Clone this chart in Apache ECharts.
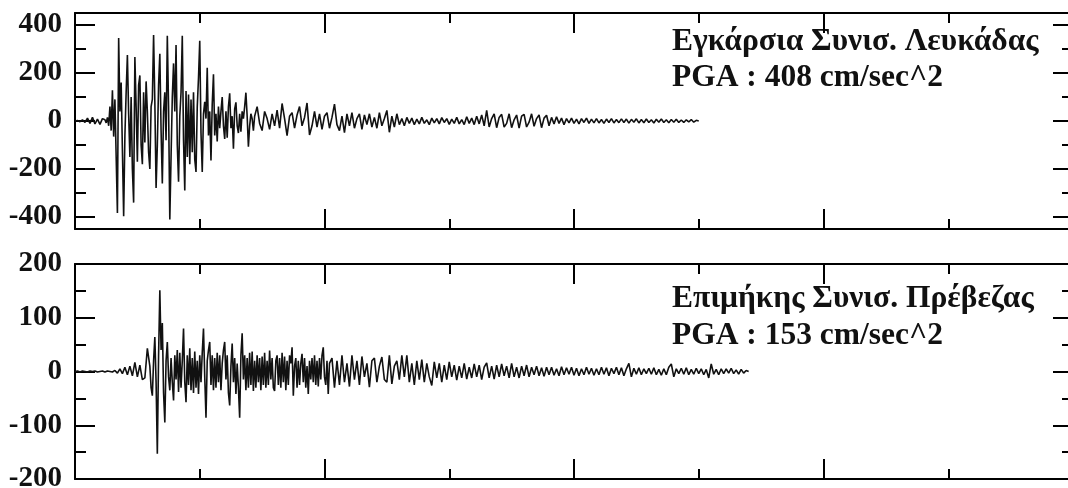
<!DOCTYPE html>
<html>
<head>
<meta charset="utf-8">
<script src="https://cdn.jsdelivr.net/npm/echarts@6/dist/echarts.min.js"></script>
<style>html,body{margin:0;padding:0;background:#fff}#c{width:1068px;height:488px}</style>
</head>
<body>
<div id="c"></div>
<script>
// ---- Data (acceleration, cm/sec^2) ----
// Top trace: Εγκάρσια Συνισ. Λευκάδας
const topPreT0 = 0, topPreDt = 0.1;
const topPre = [0, 2, -3, 5, -6, 12, -10, 15, -12, 8, -14, 10];
const topStrongT0 = 1.2, topStrongDt = 0.05;
const topStrong = [
  5, -8, 15, -20, 60, -40, 128, -65, 90, -150,
  -383, 346, 40, 160, -120, -397, -60, 120, 275, 30,
  -150, 100, -200, -340, 267, 60, -170, 150, 190, -100,
  -180, 120, -90, 165, 40, -130, -200, 60, 90, 358,
  80, -279, -100, 150, 280, -40, -260, 40, 120, -80,
  355, 60, -410, -150, 100, 240, 40, 317, -100, -253,
  20, 120, 355, -80, -290, 125, -150, 110, -180, 90,
  -130, 120, -160, -212, 60, 180, 334, -50, -212, 30,
  80, 10, 222, -60, 40, -165, 70, 195, -60, 30,
  -85, 60, -30, 40, 100, -20, -75, 40, -70, 60,
  115, -30, 20, -115, 50, 78, -20, -50, 30, -45,
  40, 10, 60, 118, 20, -107, -20, 30, 10, -40,
  20
];
const topCodaT0 = 7.3, topCodaDt = 0.1;
const topCoda = [
  60, -10, -40, 40, 10, -35, 30,
  -20, 45, -30, 73, 10, -61, 20, 35, -30, 25,
  60, -20, 15, 75, -58, -20, 40, -25, 30, -35,
  20, 35, -30, 15, 70, -15, -40, 20, -48, 30,
  -20, 35, -30, 10, 30, -35, 25, -15, 30, -25,
  15, -30, 35, -20, 10, 44, -47, 20, -25, 30,
  -15, 10, -20, 15, -10, 12, -15, 8, -12, 15,
  -10, 5, -15, 12, -8, 10, -12, 14, -6, 10,
  -14, 8, -10, 15, -12, 6, -15, 18, -10, 12,
  -15, 20, -12, 25, -20, 44, -25, 10, 30, -28,
  15, 28, -25, -10, 30, -28, 5, 25, -30, 20,
  28, -25, -5, 30, -22, 10, 25, -28, 12, 24,
  -20, 15, -12, 18, -10, 12, -15, 10, -8, 12,
  -10, 8, -12, 10, -6, 12, -10, 8, -8, 10,
  -8, 6, -10, 8, -6, 10, -8, 6, -7, 9,
  -6, 8, -9, 7, -5, 9, -8, 6, -7, 8,
  -6, 5, -8, 7, -5, 8, -6, 5, -7, 6,
  -5, 7, -6, 4, -6, 5, -4, 6, -5, 3, 0
];

// Bottom trace: Επιμήκης Συνισ. Πρέβεζας
const botPreT0 = 0, botPreDt = 0.1;
const botPre = [
  0, 1, -1, 1, 0, -1, 1, 0, 1, -1,
  0, 1, -1, 1, 0, -1, 2, -3, 5, -4,
  8, -6, 10, -8, 17, -10, 12, -15, -12, 43
];
const botStrongT0 = 3.0, botStrongDt = 0.05;
const botStrong = [
  10, -30, -45, 20, 64, -20, -153, 30, 151, 40,
  90, -40, -95, 20, 55, -10, -35, 25, -20, -54,
  30, -15, 40, -38, 35, -30, 20, 80, -20, -57,
  30, -25, 43, -35, 25, -40, 37, -30, 20, -42,
  30, -20, 35, 80, -10, -86, 20, 40, 55, -25,
  30, -35, 25, -30, 35, -20, 30, -35, 15, 40,
  55, -15, 30, -40, -63, 10, 52, -20, 25, -42,
  15, -30, -86, 30, 71, -15, 30, -35, 25, -30,
  35, -25, 37, -36, 20, -30, 30, -20, 25, -35,
  28, -25, 35, -30, 20, -25, 39, -15, 25, -30,
  -36, 20, 30, -25, 25, -30, 35, -20, 28, -35,
  20, -25, 30, 15, 45, -45, 10, 25, -30, 20,
  -25, 15, 33, -20, 25, -30, 10, -42, 20, -15,
  25, -20, 30, -25, 20, -28, 25, -15, 30, 45,
  -10, -25, 20, -42, 15
];
const botCodaT0 = 10.3, botCodaDt = 0.1;
const botCoda = [
  25, -30, 20, -25, 30, -20, 15,
  -28, 30, -15, 20, -25, 28, -10, 15, -29, 20,
  25, -20, 10, 27, -15, -20, 30, -23, 10, 20,
  -15, 30, -10, 30, -20, 15, -25, 20, -15, 22,
  -20, 15, -10, -26, 18, -12, 15, -20, 12, -15,
  18, -10, 12, -16, 10, -12, 15, -14, 8, -12,
  14, -10, 12, -15, 8, 16, -12, 10, -14, 12,
  -10, 14, -8, 10, -12, 15, -10, 8, -12, 10,
  -8, 12, -10, 8, -6, 10, -8, 7, -9, 8,
  -6, 8, -7, 5, -8, 9, -6, 7, -5, 8,
  -7, 6, -8, 5, -6, 8, -5, 6, -7, 5,
  -6, 8, -5, 7, -8, 6, -4, 8, -6, 7,
  -8, 5, 15, -10, 6, -5, 7, -6, 5, -4,
  6, -5, 7, -6, 4, -7, 5, -6, 8, 14,
  -10, 5, -4, 6, -5, 7, -6, 4, -5, 6,
  -4, 5, -6, 4, -12, 14, -5, 4, -6, 5,
  -4, 5, -3, 6, -4, 3, -5, 4, -3, 2, 0
];

// Axis ticks and labels
const timeMin = 0, timeMax = 40, timeMajor = 10;
const topYMin = -450, topYMax = 450;
const topMajorTicks = [-400, -200, 0, 200, 400];
const topMinorTicks = [-300, -100, 100, 300];
const botYMin = -200, botYMax = 200, botYInterval = 100;
const titles = [
  ['Εγκάρσια Συνισ. Λευκάδας', 'PGA : 408 cm/sec^2'],
  ['Επιμήκης Συνισ. Πρέβεζας', 'PGA : 153 cm/sec^2']
];

// ---- Build ----
function seg(vals, t0, dt) {
  return vals.map((v, i) => [+(t0 + i * dt).toFixed(3), v]);
}
const topData = [].concat(seg(topPre, topPreT0, topPreDt), seg(topStrong, topStrongT0, topStrongDt), seg(topCoda, topCodaT0, topCodaDt));
const botData = [].concat(seg(botPre, botPreT0, botPreDt), seg(botStrong, botStrongT0, botStrongDt), seg(botCoda, botCodaT0, botCodaDt));

const black = '#000';
const labelFont = { fontFamily: '"Liberation Serif", "Times New Roman", serif', fontWeight: 'bold', fontSize: 29, color: '#111', margin: 13 };

function xAx(g, pos) {
  return {
    gridIndex: g, type: 'value', min: timeMin, max: timeMax, interval: timeMajor, position: pos,
    axisLine: { show: true, onZero: false, lineStyle: { color: black, width: 2 } },
    axisTick: { show: true, inside: true, length: 20, lineStyle: { color: black, width: 2 } },
    minorTick: { show: true, splitNumber: 2, length: 10, lineStyle: { color: black, width: 2 } },
    axisLabel: { show: false }, splitLine: { show: false }, minorSplitLine: { show: false }
  };
}
function yTop(pos, major, withLabel) {
  return {
    gridIndex: 0, type: 'value', min: topYMin, max: topYMax, position: pos,
    axisLine: { show: major, onZero: false, lineStyle: { color: black, width: 2 } },
    axisTick: { show: true, inside: true, length: major ? 20 : 11, customValues: major ? topMajorTicks : topMinorTicks, lineStyle: { color: black, width: 2 } },
    axisLabel: withLabel ? Object.assign({ show: true, customValues: topMajorTicks }, labelFont) : { show: false },
    splitLine: { show: false }
  };
}
function yBot(pos, withLabel) {
  return {
    gridIndex: 1, type: 'value', min: botYMin, max: botYMax, interval: botYInterval, position: pos,
    axisLine: { show: true, onZero: false, lineStyle: { color: black, width: 2 } },
    axisTick: { show: true, inside: true, length: 20, lineStyle: { color: black, width: 2 } },
    minorTick: { show: true, splitNumber: 2, length: 11, lineStyle: { color: black, width: 2 } },
    axisLabel: withLabel ? Object.assign({ show: true, showMinLabel: true, showMaxLabel: true }, labelFont) : { show: false },
    splitLine: { show: false }, minorSplitLine: { show: false }
  };
}

const titleFont = 'bold 31.5px "Liberation Serif", "Times New Roman", serif';
function txt(s, x, y) {
  return { type: 'text', x: x, y: y, silent: true, style: { text: s, font: titleFont, fill: '#111', verticalAlign: 'middle', textVerticalAlign: 'middle' } };
}

const chart = echarts.init(document.getElementById('c'), null, { renderer: 'canvas' });
chart.setOption({
  animation: false,
  backgroundColor: '#fff',
  grid: [
    { left: 75, top: 13, width: 998, height: 216, outerBoundsMode: 'none', containLabel: false },
    { left: 75, top: 264, width: 998, height: 215, outerBoundsMode: 'none', containLabel: false }
  ],
  xAxis: [xAx(0, 'bottom'), xAx(0, 'top'), xAx(1, 'bottom'), xAx(1, 'top')],
  yAxis: [yTop('left', true, true), yTop('left', false, false), yTop('right', true, false), yTop('right', false, false), yBot('left', true), yBot('right', false)],
  series: [
    { type: 'line', xAxisIndex: 0, yAxisIndex: 0, data: topData, showSymbol: false, symbol: 'none', lineStyle: { color: '#111', width: 1.6 }, silent: true },
    { type: 'line', xAxisIndex: 2, yAxisIndex: 4, data: botData, showSymbol: false, symbol: 'none', lineStyle: { color: '#111', width: 1.6 }, silent: true }
  ],
  graphic: [
    txt(titles[0][0], 672, 42), txt(titles[0][1], 672, 78),
    txt(titles[1][0], 672, 299), txt(titles[1][1], 672, 336)
  ]
});
</script>
</body>
</html>
